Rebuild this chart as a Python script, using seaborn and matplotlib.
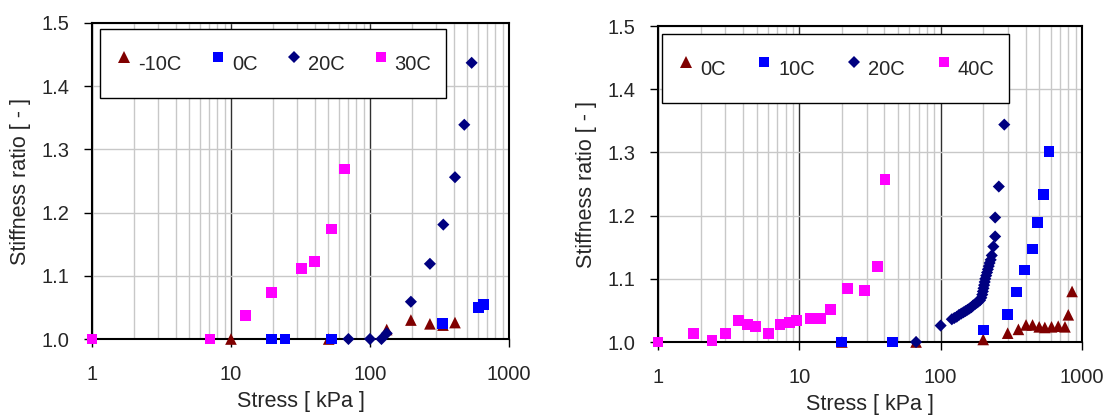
import numpy as np
import pandas as pd
import matplotlib
matplotlib.use('Agg')
import matplotlib.pyplot as plt
from matplotlib.ticker import FixedLocator, LogLocator, NullFormatter
import seaborn as sns

# left panel
left_labels = ['-10C', '0C', '20C', '30C']
l_m10_x = [10, 50.5, 132, 197, 270, 335, 409]
l_m10_y = [1.0, 1.0, 1.015, 1.030, 1.024, 1.022, 1.026]
l_0_x = [19.6, 24.5, 53, 331, 600, 660]
l_0_y = [1.0, 1.0, 1.0, 1.025, 1.050, 1.055]
l_20_x = [70, 100, 121, 132, 197, 270, 337, 409, 477, 539]
l_20_y = [1.0, 1.0, 1.0, 1.009, 1.059, 1.119, 1.181, 1.256, 1.339, 1.437]
l_30_x = [1, 7.06, 12.7, 19.6, 32.3, 40, 53, 65.8]
l_30_y = [1.0, 1.0, 1.037, 1.073, 1.112, 1.123, 1.174, 1.269]

# right panel
right_labels = ['0C', '10C', '20C', '40C']
r_0_x = [20, 67, 200, 298, 355, 402, 447, 498, 546, 609, 679, 758, 800, 851]
r_0_y = [1.0, 1.0, 1.004, 1.014, 1.020, 1.027, 1.027, 1.024, 1.023, 1.024,
         1.025, 1.024, 1.043, 1.080]
r_10_x = [20, 45.8, 200, 297, 346, 392, 444, 484, 534, 585]
r_10_y = [1.0, 1.0, 1.019, 1.043, 1.079, 1.114, 1.147, 1.189, 1.233, 1.301]
r_20_x = [67, 100, 120, 125, 130, 135, 140, 145, 150, 155, 160, 165, 170,
          175, 180, 185, 190, 194, 197, 199, 201, 203, 205, 207, 210, 213,
          216, 219, 222, 226, 230, 236, 243, 243, 258, 282]
r_20_y = [1.0, 1.026, 1.036, 1.038, 1.040, 1.043, 1.045, 1.047, 1.049, 1.051,
          1.053, 1.055, 1.058, 1.060, 1.062, 1.064, 1.066, 1.070, 1.075, 1.080,
          1.085, 1.090, 1.095, 1.100, 1.105, 1.110, 1.115, 1.120, 1.125, 1.130,
          1.137, 1.151, 1.167, 1.197, 1.246, 1.344]
r_40_x = [1, 1.78, 2.41, 2.99, 3.70, 4.31, 4.88, 6.04, 7.30, 8.50, 9.59,
          11.9, 14.2, 16.6, 21.9, 29.0, 35.7, 40.4]
r_40_y = [1.0, 1.014, 1.002, 1.014, 1.034, 1.028, 1.025, 1.014, 1.028, 1.031,
          1.034, 1.037, 1.037, 1.052, 1.085, 1.082, 1.120, 1.257]

colors = ['#800000', '#0000FF', '#000080', '#FF00FF']
marks = ['^', 's', 'D', 's']
msizes = [70, 60, 38, 60]
leg_ms = [8.0, 7.2, 5.8, 7.2]


def make_df(labels, xs, ys):
    parts = []
    for lab, x, y in zip(labels, xs, ys):
        parts.append(pd.DataFrame({'stress': x, 'ratio': y, 'series': lab}))
    return pd.concat(parts, ignore_index=True)


df_left = make_df(left_labels, [l_m10_x, l_0_x, l_20_x, l_30_x],
                  [l_m10_y, l_0_y, l_20_y, l_30_y])
df_right = make_df(right_labels, [r_0_x, r_10_x, r_20_x, r_40_x],
                   [r_0_y, r_10_y, r_20_y, r_40_y])

sns.set_theme(style='white')
plt.rcParams['font.family'] = ['Liberation Sans', 'DejaVu Sans']

fig = plt.figure(figsize=(11.12, 4.15), dpi=100)
ax1 = fig.add_axes([0.0827, 0.1831, 0.375, 0.7615])
ax2 = fig.add_axes([0.5917, 0.1759, 0.3813, 0.7614])


def draw(ax, df, labels, leg_box):
    sns.scatterplot(data=df, x='stress', y='ratio', hue='series',
                    style='series', size='series', hue_order=labels,
                    style_order=labels, size_order=labels,
                    palette=dict(zip(labels, colors)),
                    markers=dict(zip(labels, marks)),
                    sizes=dict(zip(labels, msizes)),
                    linewidth=0, clip_on=False, zorder=5, ax=ax)
    ax.set_xscale('log')
    ax.set_xlim(1, 1000)
    ax.set_ylim(1.0, 1.5)
    ax.xaxis.set_major_locator(FixedLocator([1, 10, 100, 1000]))
    ax.set_xticklabels(['1', '10', '100', '1000'])
    ax.xaxis.set_minor_locator(LogLocator(base=10, subs=np.arange(2, 10)))
    ax.xaxis.set_minor_formatter(NullFormatter())
    ax.set_yticks(np.arange(1.0, 1.51, 0.1))
    ax.set_yticklabels([f'{v:.1f}' for v in np.arange(1.0, 1.51, 0.1)])
    ax.grid(which='minor', axis='x', color='#c8c8c8', lw=1)
    ax.grid(which='major', axis='x', color='#303030', lw=1)
    ax.grid(which='major', axis='y', color='#c8c8c8', lw=1)
    ax.set_axisbelow(True)
    for sp in ax.spines.values():
        sp.set_color('black')
        sp.set_linewidth(1.5)
    ax.tick_params(which='major', direction='out', length=6, width=1,
                   color='black', labelsize=14.5, bottom=True, left=True)
    ax.tick_params(axis='x', pad=13)
    ax.tick_params(axis='y', pad=10)
    ax.tick_params(which='minor', length=0)
    ax.set_xlabel('Stress [ kPa ]', fontsize=15.5, labelpad=5)
    ax.set_ylabel('Stiffness ratio [ - ]', fontsize=15.5, labelpad=8)
    sns.move_legend(ax, 'upper left', bbox_to_anchor=leg_box, mode='expand',
                    ncol=4, title=None, frameon=True, fontsize=14.5,
                    borderaxespad=0, borderpad=0.72, handleheight=2.7,
                    handlelength=0.96, handletextpad=0.22, fancybox=False,
                    framealpha=1, edgecolor='black')
    leg = ax.get_legend()
    leg.get_frame().set_linewidth(1)
    # legend markers a bit larger, like the original
    for h, ms in zip(leg.legend_handles, leg_ms):
        if hasattr(h, 'set_sizes'):
            h.set_sizes([ms ** 2])
        elif hasattr(h, 'set_markersize'):
            h.set_markersize(ms)


draw(ax1, df_left, left_labels, (0.019, 0.75, 0.83, 0.231))
draw(ax2, df_right, right_labels, (0.009, 0.744, 0.819, 0.231))

fig.savefig('out.png', dpi=100)
